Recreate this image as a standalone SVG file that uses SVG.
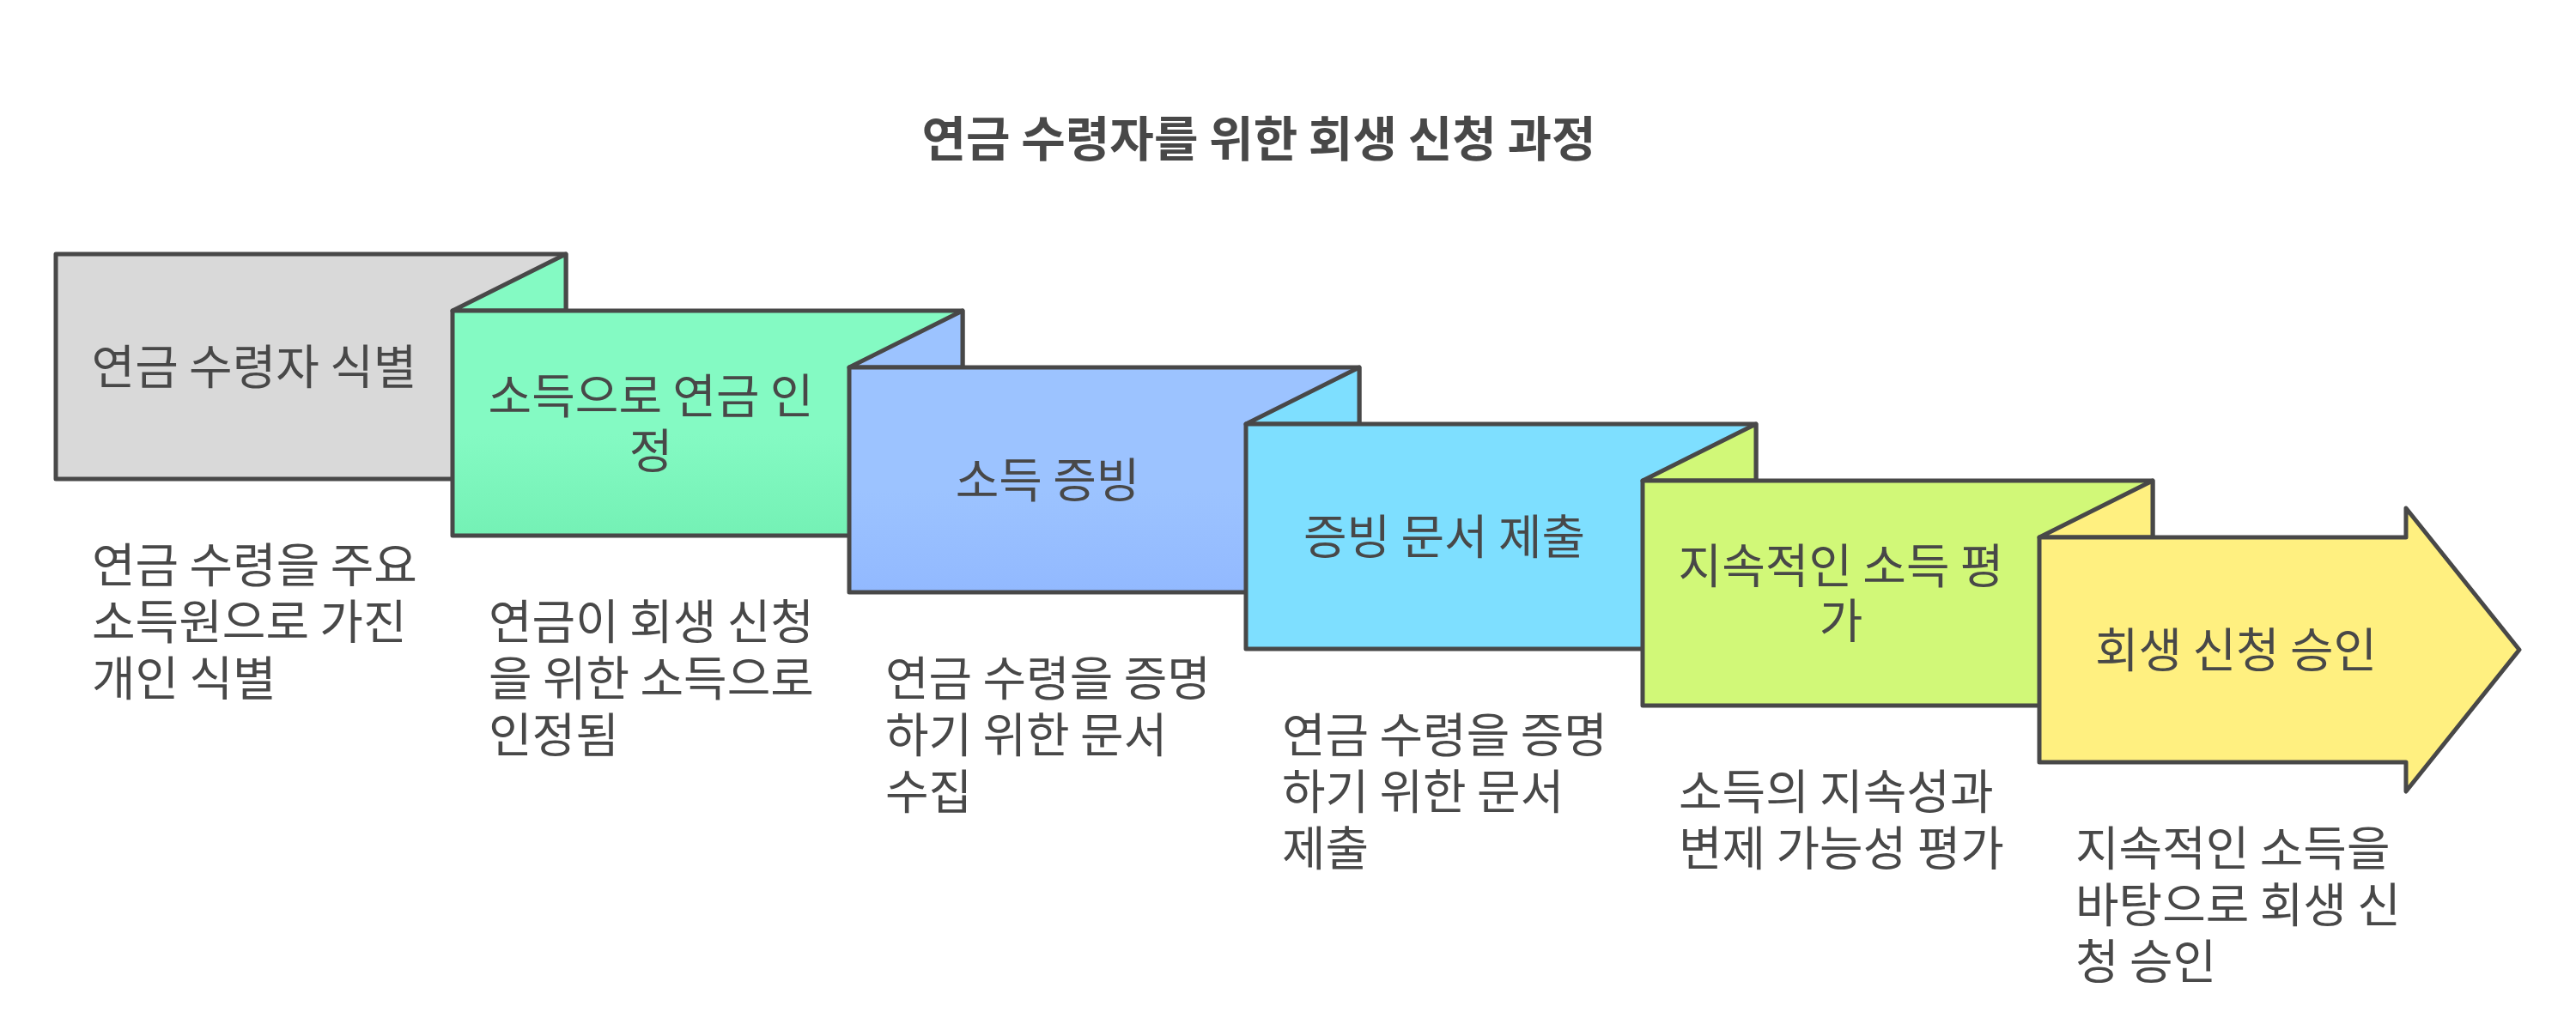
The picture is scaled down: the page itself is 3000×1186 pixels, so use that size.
<svg xmlns="http://www.w3.org/2000/svg" width="3000" height="1186" viewBox="0 0 3000 1186">
<defs>
<linearGradient id="gGreen" x1="0" y1="0" x2="0" y2="1"><stop offset="0.55" stop-color="#84FAC3"/><stop offset="1" stop-color="#74F1B5"/></linearGradient>
<linearGradient id="gBlue" x1="0" y1="0" x2="0" y2="1"><stop offset="0.55" stop-color="#9CC3FF"/><stop offset="1" stop-color="#92B9FF"/></linearGradient>
<style>
.s{stroke:#484848;stroke-width:5;stroke-linejoin:round}
.gray{fill:#D9D9D9}
.green{fill:url(#gGreen)}
.greenf{fill:#84FAC3}
.blue{fill:url(#gBlue)}
.bluef{fill:#9CC3FF}
.cyan{fill:#7EDFFF}
.lime{fill:#D1F878}
.yellow{fill:#FFF080}
text{font-family:"Noto Sans CJK KR","Noto Sans",sans-serif;fill:#484848}
.lbl{font-size:55px;text-anchor:middle}
.desc{font-size:55px}
.title{font-size:56px;font-weight:bold;text-anchor:middle}
</style>
</defs>
<rect width="3000" height="1186" fill="#FFFFFF"/>
<text class="title" x="1466" y="182">연금 수령자를 위한 회생 신청 과정</text>
<g id="connectors"></g>
<g id="step1">
<rect class="s gray" x="65" y="296" width="594" height="262"/>
<text class="lbl" x="296" y="447">연금 수령자 식별</text>
</g>
<g id="step2">
<polygon class="s greenf" points="527,362 659,296 659,362"/>
<rect class="s green" x="527" y="362" width="594" height="262"/>
<text class="lbl" x="758" y="481">소득으로 연금 인</text>
<text class="lbl" x="758" y="545">정</text>
</g>
<g id="step3">
<polygon class="s bluef" points="989,428 1121,362 1121,428"/>
<rect class="s blue" x="989" y="428" width="594" height="262"/>
<text class="lbl" x="1220" y="579">소득 증빙</text>
</g>
<g id="step4">
<polygon class="s cyan" points="1451,494 1583,428 1583,494"/>
<rect class="s cyan" x="1451" y="494" width="594" height="262"/>
<text class="lbl" x="1682" y="645">증빙 문서 제출</text>
</g>
<g id="step5">
<polygon class="s lime" points="1913,560 2045,494 2045,560"/>
<rect class="s lime" x="1913" y="560" width="594" height="262"/>
<text class="lbl" x="2144" y="679">지속적인 소득 평</text>
<text class="lbl" x="2144" y="743">가</text>
</g>
<g id="step6">
<polygon class="s yellow" points="2375,626 2507,560 2507,626"/>
<polygon class="s yellow" points="2375,626 2802,626 2802,592 2934,757 2802,922 2802,888 2375,888"/>
<text class="lbl" x="2604" y="777">회생 신청 승인</text>
</g>
<g id="desc1">
<text class="desc" x="107" y="678">연금 수령을 주요</text>
<text class="desc" x="107" y="744">소득원으로 가진</text>
<text class="desc" x="107" y="810">개인 식별</text>
</g>
<g id="desc2">
<text class="desc" x="569" y="744">연금이 회생 신청</text>
<text class="desc" x="569" y="810">을 위한 소득으로</text>
<text class="desc" x="569" y="876">인정됨</text>
</g>
<g id="desc3">
<text class="desc" x="1031" y="810">연금 수령을 증명</text>
<text class="desc" x="1031" y="876">하기 위한 문서</text>
<text class="desc" x="1031" y="942">수집</text>
</g>
<g id="desc4">
<text class="desc" x="1493" y="876">연금 수령을 증명</text>
<text class="desc" x="1493" y="942">하기 위한 문서</text>
<text class="desc" x="1493" y="1008">제출</text>
</g>
<g id="desc5">
<text class="desc" x="1955" y="942">소득의 지속성과</text>
<text class="desc" x="1955" y="1008">변제 가능성 평가</text>
</g>
<g id="desc6">
<text class="desc" x="2417" y="1008">지속적인 소득을</text>
<text class="desc" x="2417" y="1074">바탕으로 회생 신</text>
<text class="desc" x="2417" y="1140">청 승인</text>
</g>
</svg>
